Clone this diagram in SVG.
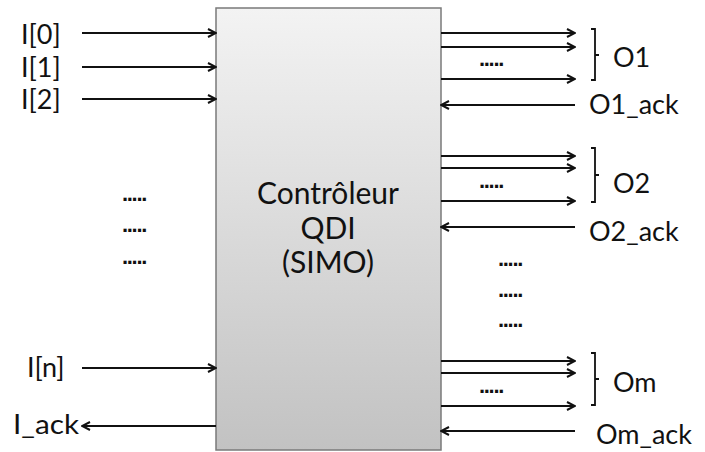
<svg xmlns="http://www.w3.org/2000/svg" width="705" height="452" viewBox="0 0 705 452">
<style>
.lbl{font-family:Lato,"Liberation Sans",sans-serif;font-size:27px;fill:#111}
.ctr{font-family:Lato,"Liberation Sans",sans-serif;font-size:30px;fill:#111;text-anchor:middle}
.dots{font-family:"Liberation Sans",sans-serif;font-size:22px;fill:#111;font-weight:bold;letter-spacing:-1.3px}
.w{stroke:#111;stroke-width:2;fill:none}
.br{stroke:#111;stroke-width:1.8;fill:none}
</style>
<defs>
<linearGradient id="g" x1="0" y1="0" x2="0" y2="1">
<stop offset="0" stop-color="#f3f3f3"/>
<stop offset="1" stop-color="#c2c2c2"/>
</linearGradient>
<marker id="ah" viewBox="0 0 10 10" refX="9" refY="5" markerWidth="10" markerHeight="10" markerUnits="userSpaceOnUse" orient="auto">
<path d="M1,1 L9,5 L1,9" stroke="#111" stroke-width="2" fill="none"/>
</marker>
</defs>
<g id="controller">
<rect x="216" y="8" width="225" height="442" fill="url(#g)" stroke="#7a7a7a" stroke-width="1.5"/>
<text class="ctr" x="328" y="204">Contrôleur</text>
<text class="ctr" x="328" y="239">QDI</text>
<text class="ctr" x="328" y="273">(SIMO)</text>
</g>
<g id="inputs">
<text class="lbl" x="21" y="44">I[0]</text>
<text class="lbl" x="21" y="77">I[1]</text>
<text class="lbl" x="21" y="109">I[2]</text>
<text class="lbl" x="27" y="377">I[n]</text>
<text class="lbl" x="13" y="434" textLength="66" lengthAdjust="spacingAndGlyphs">I_ack</text>
<text class="dots" x="122" y="201">.....</text>
<text class="dots" x="122" y="232">.....</text>
<text class="dots" x="122" y="264">.....</text>
</g>
<g id="outputs">
<text class="lbl" x="613" y="67">O1</text>
<text class="lbl" x="589" y="114">O1_ack</text>
<text class="lbl" x="613" y="193">O2</text>
<text class="lbl" x="589" y="241">O2_ack</text>
<text class="lbl" x="613" y="392">Om</text>
<text class="lbl" x="596" y="444">Om_ack</text>
<text class="dots" x="479" y="66">.....</text>
<text class="dots" x="479" y="188">.....</text>
<text class="dots" x="479" y="393">.....</text>
<text class="dots" x="498" y="266">.....</text>
<text class="dots" x="498" y="297">.....</text>
<text class="dots" x="498" y="327">.....</text>
<path class="br" d="M591,29 L595,29 L595,80 L591,80 M595,55 L599,55"/>
<path class="br" d="M591,148 L595,148 L595,202 L591,202 M595,175 L599,175"/>
<path class="br" d="M591,353 L595,353 L595,405 L591,405 M595,379 L599,379"/>
</g>
<g id="connectors">
<line class="w" x1="82" y1="33" x2="216" y2="33" marker-end="url(#ah)"/>
<line class="w" x1="82" y1="67" x2="216" y2="67" marker-end="url(#ah)"/>
<line class="w" x1="82" y1="99" x2="216" y2="99" marker-end="url(#ah)"/>
<line class="w" x1="82" y1="368" x2="216" y2="368" marker-end="url(#ah)"/>
<line class="w" x1="216" y1="426" x2="82" y2="426" marker-end="url(#ah)"/>
<line class="w" x1="441" y1="33" x2="575" y2="33" marker-end="url(#ah)"/>
<line class="w" x1="441" y1="47" x2="575" y2="47" marker-end="url(#ah)"/>
<line class="w" x1="441" y1="79" x2="575" y2="79" marker-end="url(#ah)"/>
<line class="w" x1="575" y1="105" x2="441" y2="105" marker-end="url(#ah)"/>
<line class="w" x1="441" y1="156" x2="575" y2="156" marker-end="url(#ah)"/>
<line class="w" x1="441" y1="168" x2="575" y2="168" marker-end="url(#ah)"/>
<line class="w" x1="441" y1="201" x2="575" y2="201" marker-end="url(#ah)"/>
<line class="w" x1="575" y1="227" x2="441" y2="227" marker-end="url(#ah)"/>
<line class="w" x1="441" y1="361" x2="575" y2="361" marker-end="url(#ah)"/>
<line class="w" x1="441" y1="373" x2="575" y2="373" marker-end="url(#ah)"/>
<line class="w" x1="441" y1="406" x2="575" y2="406" marker-end="url(#ah)"/>
<line class="w" x1="575" y1="431" x2="441" y2="431" marker-end="url(#ah)"/>
</g>
</svg>
